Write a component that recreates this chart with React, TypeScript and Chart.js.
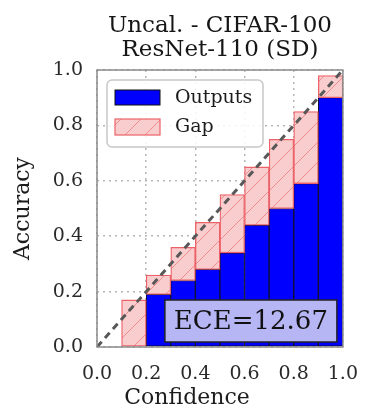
import { useEffect, useRef } from "react";
import { Chart, registerables } from "chart.js";

Chart.register(...registerables);

// ---- data ----
const BIN_CENTERS = [0.05, 0.15, 0.25, 0.35, 0.45, 0.55, 0.65, 0.75, 0.85, 0.95];
const OUTPUTS: (number | null)[] = [null, 0, 0.19, 0.24, 0.28, 0.34, 0.44, 0.5, 0.59, 0.9];
const BIN_CONFIDENCE: (number | null)[] = [null, 0.17, 0.26, 0.36, 0.45, 0.55, 0.65, 0.75, 0.85, 0.98];
const DIAGONAL_X = [0, 1];
const DIAGONAL_Y = [0, 1];
const TITLE_LINES = ["Uncal. - CIFAR-100", "ResNet-110 (SD)"];
const X_LABEL = "Confidence";
const Y_LABEL = "Accuracy";
const LEGEND_LABELS = ["Outputs", "Gap"];
const ECE_TEXT = "ECE=12.67";
const AXIS_MIN = 0;
const AXIS_MAX = 1;
const TICK_STEP = 0.2;

const FONT = "DejaVu Serif";
const TEXT_COLOR = "#1c1c1c";
const BLUE = "#0000ff";
const PINK_EDGE = "rgb(236,98,104)";

function makeHatch(): CanvasPattern | string {
  const size = 20;
  const c = document.createElement("canvas");
  c.width = size;
  c.height = size;
  const x = c.getContext("2d");
  if (!x) return "rgb(249,205,205)";
  x.fillStyle = "rgb(249,205,205)";
  x.fillRect(0, 0, size, size);
  x.strokeStyle = "rgba(225,90,95,0.55)";
  x.lineWidth = 1;
  x.beginPath();
  x.moveTo(0, size);
  x.lineTo(size, 0);
  x.moveTo(-2, 2);
  x.lineTo(2, -2);
  x.moveTo(size - 2, size + 2);
  x.lineTo(size + 2, size - 2);
  x.stroke();
  const p = x.createPattern(c, "repeat");
  return p || "rgb(249,205,205)";
}

export default function App() {
  const ref = useRef<HTMLCanvasElement | null>(null);

  useEffect(() => {
    const canvas = ref.current;
    if (!canvas) return;
    const hatch = makeHatch();

    const overlay = {
      id: "overlay",
      afterDatasetsDraw(chart: any) {
        const { ctx, chartArea: a } = chart;
        ctx.save();
        ctx.strokeStyle = "#8a8a8a";
        ctx.lineWidth = 1.5;
        ctx.strokeRect(a.left, a.top, a.right - a.left, a.bottom - a.top);
        ctx.restore();
      },
      afterDraw(chart: any) {
        const { ctx, chartArea: a, width } = chart;
        ctx.save();

        // title (centred over the plot area)
        const cx = (a.left + a.right) / 2;
        ctx.fillStyle = "#161616";
        ctx.font = `23px "${FONT}"`;
        ctx.textAlign = "center";
        ctx.textBaseline = "alphabetic";
        ctx.fillText(TITLE_LINES[0], cx, a.top - 38);
        ctx.fillText(TITLE_LINES[1], cx, a.top - 14);

        // x label (centred on the figure)
        ctx.fillStyle = TEXT_COLOR;
        ctx.font = `22px "${FONT}"`;
        ctx.fillText(X_LABEL, width / 2, a.bottom + 57);

        // legend
        const bx = a.left + 10;
        const by = a.top + 10;
        const bw = 156;
        const bh = 67;
        ctx.beginPath();
        ctx.roundRect(bx, by, bw, bh, 5);
        ctx.fillStyle = "rgba(255,255,255,0.85)";
        ctx.fill();
        ctx.strokeStyle = "#c8c8c8";
        ctx.lineWidth = 1.5;
        ctx.stroke();

        ctx.fillStyle = BLUE;
        ctx.fillRect(bx + 8, by + 10, 45, 15);
        ctx.strokeStyle = "#111";
        ctx.lineWidth = 1;
        ctx.strokeRect(bx + 8, by + 10, 45, 15);

        ctx.fillStyle = hatch as any;
        ctx.fillRect(bx + 8, by + 39, 45, 16);
        ctx.strokeStyle = PINK_EDGE;
        ctx.lineWidth = 1.2;
        ctx.strokeRect(bx + 8, by + 39, 45, 16);

        ctx.fillStyle = TEXT_COLOR;
        ctx.font = `19px "${FONT}"`;
        ctx.textAlign = "left";
        ctx.textBaseline = "middle";
        ctx.fillText(LEGEND_LABELS[0], bx + 68, by + 18);
        ctx.fillText(LEGEND_LABELS[1], bx + 68, by + 47);

        // ECE box
        const ew = 172;
        const eh = 42;
        const ex = a.right - 6 - ew;
        const ey = a.bottom - 5 - eh;
        ctx.fillStyle = "rgb(182,182,245)";
        ctx.fillRect(ex, ey, ew, eh);
        ctx.strokeStyle = "#222";
        ctx.lineWidth = 1.5;
        ctx.strokeRect(ex, ey, ew, eh);
        ctx.fillStyle = "#111";
        ctx.font = `26px "${FONT}"`;
        ctx.textAlign = "center";
        ctx.textBaseline = "middle";
        ctx.fillText(ECE_TEXT, ex + ew / 2, ey + eh / 2 + 1);
        ctx.restore();
      },
    };

    const gridOpts = {
      color: "rgba(175,175,175,0.9)",
      lineWidth: 1.5,
      drawTicks: false,
      offset: false,
    };

    const chart = new Chart(canvas, {
      type: "bar",
      data: {
        datasets: [
          {
            type: "line",
            label: "diag",
            data: DIAGONAL_X.map((x, i) => ({ x, y: DIAGONAL_Y[i] })),
            borderColor: "#585858",
            borderWidth: 3,
            borderDash: [7, 5],
            pointRadius: 0,
            fill: false,
            order: 0,
          } as any,
          {
            label: LEGEND_LABELS[1],
            data: BIN_CENTERS.map((x, i) => ({
              x,
              y: OUTPUTS[i] === null || BIN_CONFIDENCE[i] === null ? null : [OUTPUTS[i], BIN_CONFIDENCE[i]],
            })),
            backgroundColor: hatch as any,
            borderColor: PINK_EDGE,
            borderWidth: 1.3,
            borderSkipped: false,
            grouped: false,
            barPercentage: 1,
            categoryPercentage: 1,
            order: 1,
          } as any,
          {
            label: LEGEND_LABELS[0],
            data: BIN_CENTERS.map((x, i) => ({ x, y: OUTPUTS[i] })),
            backgroundColor: BLUE,
            borderColor: "#101030",
            borderWidth: 1,
            borderSkipped: false,
            grouped: false,
            barPercentage: 1,
            categoryPercentage: 1,
            order: 2,
          } as any,
        ],
      },
      options: {
        responsive: false,
        animation: false,
        events: [],
        layout: { padding: { left: 0, right: 16, top: 70, bottom: 0 } },
        font: { family: FONT },
        plugins: {
          legend: { display: false },
          tooltip: { enabled: false },
          title: { display: false },
        },
        scales: {
          x: {
            type: "linear",
            min: AXIS_MIN,
            max: AXIS_MAX,
            offset: false,
            grid: gridOpts,
            border: { display: false, dash: [2, 4] },
            ticks: {
              stepSize: TICK_STEP,
              padding: 16,
              color: "#2a2a2a",
              font: { family: FONT, size: 19 },
              callback: (v: any) => Number(v).toFixed(1),
              maxRotation: 0,
            },
            title: { display: false },
            afterFit: (s: any) => {
              s.height = 61;
            },
          },
          y: {
            type: "linear",
            min: AXIS_MIN,
            max: AXIS_MAX,
            grid: gridOpts,
            border: { display: false, dash: [2, 4] },
            ticks: {
              stepSize: TICK_STEP,
              padding: 14,
              color: "#2a2a2a",
              font: { family: FONT, size: 19 },
              callback: (v: any) => Number(v).toFixed(1),
            },
            title: {
              display: true,
              text: Y_LABEL,
              color: TEXT_COLOR,
              font: { family: FONT, size: 22, lineHeight: 1.2 },
              padding: { top: 10, bottom: 0 },
            },
            afterFit: (s: any) => {
              s.width = 97;
            },
          },
        },
      } as any,
      plugins: [overlay],
    });

    return () => chart.destroy();
  }, []);

  return (
    <div style={{ position: "absolute", left: 0, top: 0, width: 374, height: 408, background: "#fff" }}>
      <canvas ref={ref} width={374} height={408} style={{ display: "block" }} />
    </div>
  );
}
